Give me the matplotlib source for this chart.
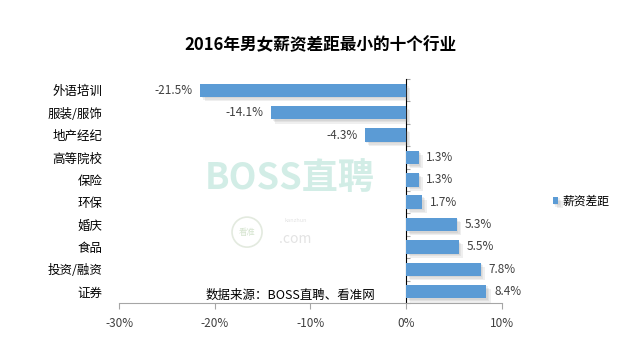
import numpy as np
import matplotlib
matplotlib.use('Agg')
import matplotlib.pyplot as plt
import matplotlib.patheffects as pe
from matplotlib.patches import Ellipse

plt.rcParams['font.family'] = ['Noto Sans CJK SC', 'DejaVu Sans']

industries = ['外语培训', '服装/服饰', '地产经纪', '高等院校', '保险',
              '环保', '婚庆', '食品', '投资/融资', '证券']
gap = [-21.5, -14.1, -4.3, 1.3, 1.3, 1.7, 5.3, 5.5, 7.8, 8.4]
xticks = [-30, -20, -10, 0, 10]

bar_color = '#5b9bd5'
axis_color = '#a6a6a6'
text_color = '#404040'

fig = plt.figure(figsize=(6.4, 3.56), dpi=100)
ax = fig.add_axes([0.186, 0.149, 0.598, 0.629])

# soft shadow made of a few faint offset copies
shadow = [pe.SimplePatchShadow(offset=(d, -d), shadow_rgbFace='#808080', alpha=0.12)
          for d in (1, 2, 3)]
y = np.arange(len(industries))
ax.barh(y, gap, height=0.6, color=bar_color, label='薪资差距', zorder=3,
        path_effects=shadow + [pe.Normal()])

for yi, v in zip(y, gap):
    if v < 0:
        ax.text(v - 0.8, yi, '%.1f%%' % v, ha='right', va='center', fontsize=8.5, color=text_color)
    else:
        ax.text(v + 0.8, yi, '%.1f%%' % v, ha='left', va='center', fontsize=8.5, color=text_color)

ax.set_xlim(-30, 10)
ax.set_ylim(len(industries) - 0.5, -0.5)
ax.set_xticks(xticks)
ax.set_xticklabels(['%d%%' % t for t in xticks], fontsize=8.5, color=text_color)
ax.set_yticks(y)
ax.set_yticklabels(industries, fontsize=9, color='#000000')
ax.tick_params(axis='y', length=0, pad=12)
ax.tick_params(axis='x', length=4, color=axis_color, pad=6)

for s in ['top', 'right', 'left']:
    ax.spines[s].set_visible(False)
ax.spines['bottom'].set_color(axis_color)

# vertical axis at 0 with small ticks between categories
sec = ax.secondary_yaxis(0.75)
sec.set_yticks(np.arange(len(industries) + 1) - 0.5)
sec.set_yticklabels([])
sec.spines['left'].set_color(axis_color)
sec.tick_params(axis='y', length=3, color=axis_color)

fig.text(0.5, 0.873, '2016年男女薪资差距最小的十个行业', ha='center', va='center',
         fontsize=12, fontweight='bold', color='#000000')

ax.legend(loc='center left', bbox_to_anchor=(1.105, 0.455), frameon=False,
          fontsize=8.5, handlelength=0.5, handleheight=0.5, handletextpad=0.3)

# watermarks
fig.text(0.452, 0.5, 'BOSS直聘', ha='center', va='center', fontsize=26,
         fontweight='bold', color='#d2ede6', zorder=0)
circ = Ellipse((0.386, 0.348), 30 / 640, 30 / 356, transform=fig.transFigure, fill=False,
               edgecolor='#e3eadf', linewidth=1.2, zorder=0)
fig.patches.append(circ)
fig.text(0.386, 0.348, '看准', ha='center', va='center', fontsize=6, color='#d5e4cf')
fig.text(0.462, 0.33, '.com', ha='center', va='center', fontsize=10, color='#e3e3e3')
fig.text(0.462, 0.38, 'kanzhun', ha='center', va='center', fontsize=4, color='#e3e3e3')

fig.text(0.453, 0.17, '数据来源：BOSS直聘、看准网', ha='center', va='center',
         fontsize=9, color='#000000', zorder=5)

fig.savefig('out.png', dpi=100, facecolor='white')
